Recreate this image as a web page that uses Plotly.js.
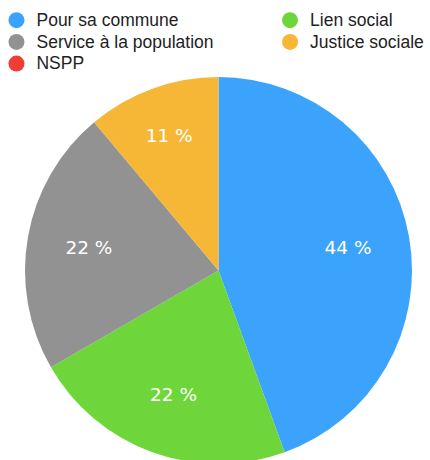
<!DOCTYPE html>
<html>
<head>
<meta charset="utf-8">
<script src="https://cdn.plot.ly/plotly-3.0.1.min.js"></script>
<style>
html, body { margin: 0; padding: 0; overflow: hidden; background: #fff; }
#chart { width: 430px; height: 464px; }
</style>
</head>
<body>
<div id="chart"></div>
<script>
var categories = ["Pour sa commune", "Lien social", "Service à la population", "Justice sociale", "NSPP"];
var values = [4, 2, 2, 1, 0];
var colors = ["#3BA3FC", "#6ED63A", "#929292", "#F5B735", "#EE3E36"];
var legendColumn = ["legend", "legend2", "legend", "legend2", "legend"];

var total = values.reduce(function (a, b) { return a + b; }, 0);
var labelsText = values.map(function (v) { return Math.round(v / total * 100) + " %"; });

var W = 430, H = 464;
var cx = 218.5, R = 193.5;
var dom = { x: [(cx - R) / W, (cx + R) / W], y: [0, (2 * R) / H] };

var pie = {
  type: "pie",
  labels: categories,
  values: values,
  textinfo: "none",
  sort: false,
  direction: "clockwise",
  rotation: 0,
  showlegend: false,
  hoverinfo: "none",
  marker: { colors: colors, line: { width: 0 } },
  domain: dom
};

var labelRing = {
  type: "pie",
  labels: categories,
  values: values,
  text: labelsText,
  textinfo: "text",
  textposition: "inside",
  insidetextorientation: "horizontal",
  sort: false,
  direction: "clockwise",
  rotation: 0,
  hole: 0.36,
  showlegend: false,
  hoverinfo: "none",
  marker: { colors: colors.map(function () { return "rgba(0,0,0,0)"; }), line: { width: 0 } },
  insidetextfont: { color: "#ffffff", size: 18.5, family: "DejaVu Sans, sans-serif" },
  domain: dom
};

var legendTraces = categories.map(function (c, i) {
  return {
    type: "scatter",
    mode: "markers",
    x: [null],
    y: [null],
    name: '<span style="font-size:17.5px">' + c + '</span>',
    legend: legendColumn[i],
    marker: { color: colors[i], size: 17, symbol: "circle" },
    hoverinfo: "none",
    showlegend: true
  };
});

var legendFont = { size: 14.4, family: "Liberation Sans, Arial, sans-serif", color: "#222222" };

var layout = {
  width: W,
  height: H,
  margin: { l: 0, r: 0, t: 0, b: 0, autoexpand: false },
  paper_bgcolor: "#ffffff",
  plot_bgcolor: "#ffffff",
  xaxis: { visible: false },
  yaxis: { visible: false },
  showlegend: true,
  legend: {
    orientation: "v",
    x: -0.0082,
    y: 0.9907,
    xanchor: "left",
    yanchor: "top",
    font: legendFont,
    bgcolor: "rgba(0,0,0,0)",
    itemclick: false,
    itemdoubleclick: false
  },
  legend2: {
    orientation: "v",
    x: 0.628,
    y: 0.9907,
    xanchor: "left",
    yanchor: "top",
    font: legendFont,
    bgcolor: "rgba(0,0,0,0)",
    itemclick: false,
    itemdoubleclick: false
  }
};

Plotly.newPlot("chart", [pie, labelRing].concat(legendTraces), layout, { displayModeBar: false, staticPlot: true });
</script>
</body>
</html>
